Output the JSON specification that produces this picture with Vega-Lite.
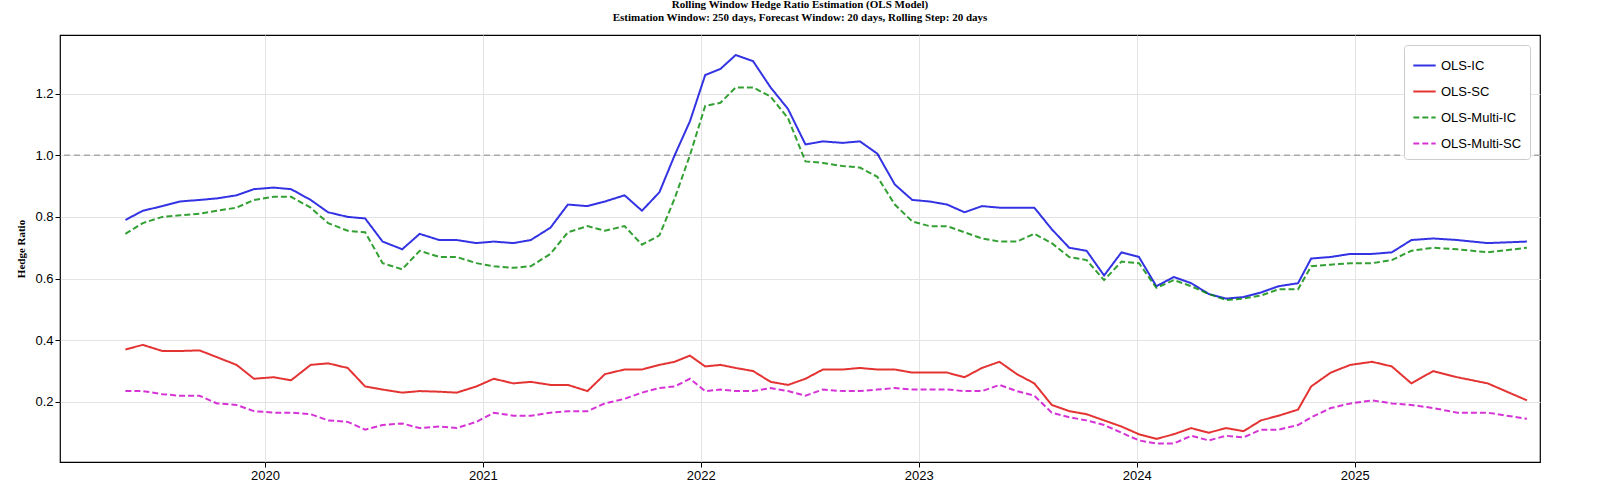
{
  "$schema": "https://vega.github.io/schema/vega-lite/v6.json",
  "width": 1480,
  "height": 427,
  "autosize": "none",
  "padding": {"left": 60, "top": 35, "right": 59, "bottom": 34},
  "background": "white",
  "title": {
    "text": ["Rolling Window Hedge Ratio Estimation (OLS Model)", "Estimation Window: 250 days, Forecast Window: 20 days, Rolling Step: 20 days"],
    "font": "Liberation Serif", "fontSize": 11, "fontWeight": "bold", "color": "#000", "offset": 12, "lineHeight": 13
  },
  "config": {
    "view": {"stroke": "#000", "strokeWidth": 1.2},
    "axis": {"grid": true, "gridColor": "#e3e3e3", "domain": false, "tickColor": "#000", "labelColor": "#000", "labelFont": "Liberation Sans", "labelFontSize": 13},
    "legend": {"orient": "top-right", "offset": 10, "fillColor": "white", "strokeColor": "#cccccc", "cornerRadius": 3, "padding": 8, "labelFont": "Liberation Sans", "labelFontSize": 13, "labelColor": "#000", "symbolType": "stroke", "symbolSize": 500, "symbolStrokeWidth": 2, "rowPadding": 6}
  },
  "datasets": {
    "ratios": [
      {"t":2019.36,"IC":0.79,"SC":0.37,"MIC":0.745,"MSC":0.235},
      {"t":2019.44,"IC":0.82,"SC":0.385,"MIC":0.78,"MSC":0.235},
      {"t":2019.53,"IC":0.835,"SC":0.365,"MIC":0.80,"MSC":0.225},
      {"t":2019.61,"IC":0.85,"SC":0.365,"MIC":0.805,"MSC":0.22},
      {"t":2019.70,"IC":0.855,"SC":0.367,"MIC":0.81,"MSC":0.22},
      {"t":2019.78,"IC":0.86,"SC":0.345,"MIC":0.82,"MSC":0.195},
      {"t":2019.87,"IC":0.87,"SC":0.32,"MIC":0.83,"MSC":0.19},
      {"t":2019.95,"IC":0.89,"SC":0.275,"MIC":0.855,"MSC":0.17},
      {"t":2020.04,"IC":0.895,"SC":0.28,"MIC":0.865,"MSC":0.165},
      {"t":2020.12,"IC":0.89,"SC":0.27,"MIC":0.865,"MSC":0.165},
      {"t":2020.21,"IC":0.855,"SC":0.32,"MIC":0.83,"MSC":0.16},
      {"t":2020.29,"IC":0.815,"SC":0.325,"MIC":0.78,"MSC":0.14},
      {"t":2020.38,"IC":0.80,"SC":0.31,"MIC":0.755,"MSC":0.135},
      {"t":2020.46,"IC":0.795,"SC":0.25,"MIC":0.75,"MSC":0.11},
      {"t":2020.54,"IC":0.72,"SC":0.24,"MIC":0.65,"MSC":0.125},
      {"t":2020.63,"IC":0.695,"SC":0.23,"MIC":0.63,"MSC":0.13},
      {"t":2020.71,"IC":0.745,"SC":0.235,"MIC":0.69,"MSC":0.115},
      {"t":2020.80,"IC":0.725,"SC":0.233,"MIC":0.67,"MSC":0.12},
      {"t":2020.88,"IC":0.725,"SC":0.23,"MIC":0.67,"MSC":0.115},
      {"t":2020.97,"IC":0.715,"SC":0.25,"MIC":0.65,"MSC":0.135},
      {"t":2021.05,"IC":0.72,"SC":0.275,"MIC":0.64,"MSC":0.165},
      {"t":2021.14,"IC":0.715,"SC":0.26,"MIC":0.635,"MSC":0.155},
      {"t":2021.22,"IC":0.725,"SC":0.265,"MIC":0.64,"MSC":0.155},
      {"t":2021.31,"IC":0.765,"SC":0.255,"MIC":0.68,"MSC":0.165},
      {"t":2021.39,"IC":0.84,"SC":0.255,"MIC":0.75,"MSC":0.17},
      {"t":2021.48,"IC":0.835,"SC":0.235,"MIC":0.77,"MSC":0.17},
      {"t":2021.56,"IC":0.85,"SC":0.29,"MIC":0.755,"MSC":0.195},
      {"t":2021.65,"IC":0.87,"SC":0.305,"MIC":0.77,"MSC":0.21},
      {"t":2021.73,"IC":0.82,"SC":0.305,"MIC":0.71,"MSC":0.23},
      {"t":2021.81,"IC":0.88,"SC":0.32,"MIC":0.74,"MSC":0.245},
      {"t":2021.88,"IC":1.0,"SC":0.33,"MIC":0.86,"MSC":0.25},
      {"t":2021.95,"IC":1.11,"SC":0.35,"MIC":1.0,"MSC":0.275},
      {"t":2022.02,"IC":1.26,"SC":0.315,"MIC":1.16,"MSC":0.235},
      {"t":2022.09,"IC":1.28,"SC":0.32,"MIC":1.17,"MSC":0.24},
      {"t":2022.16,"IC":1.325,"SC":0.31,"MIC":1.22,"MSC":0.235},
      {"t":2022.24,"IC":1.305,"SC":0.30,"MIC":1.22,"MSC":0.235},
      {"t":2022.32,"IC":1.22,"SC":0.265,"MIC":1.19,"MSC":0.245},
      {"t":2022.40,"IC":1.15,"SC":0.255,"MIC":1.12,"MSC":0.235},
      {"t":2022.48,"IC":1.035,"SC":0.275,"MIC":0.98,"MSC":0.22},
      {"t":2022.56,"IC":1.045,"SC":0.305,"MIC":0.975,"MSC":0.24},
      {"t":2022.65,"IC":1.04,"SC":0.305,"MIC":0.965,"MSC":0.235},
      {"t":2022.73,"IC":1.045,"SC":0.31,"MIC":0.96,"MSC":0.235},
      {"t":2022.81,"IC":1.005,"SC":0.305,"MIC":0.93,"MSC":0.24},
      {"t":2022.89,"IC":0.905,"SC":0.305,"MIC":0.84,"MSC":0.245},
      {"t":2022.97,"IC":0.855,"SC":0.295,"MIC":0.785,"MSC":0.24},
      {"t":2023.05,"IC":0.85,"SC":0.295,"MIC":0.77,"MSC":0.24},
      {"t":2023.13,"IC":0.84,"SC":0.295,"MIC":0.77,"MSC":0.24},
      {"t":2023.21,"IC":0.815,"SC":0.28,"MIC":0.75,"MSC":0.235},
      {"t":2023.29,"IC":0.835,"SC":0.31,"MIC":0.73,"MSC":0.235},
      {"t":2023.37,"IC":0.83,"SC":0.33,"MIC":0.72,"MSC":0.255},
      {"t":2023.45,"IC":0.83,"SC":0.29,"MIC":0.72,"MSC":0.235},
      {"t":2023.53,"IC":0.83,"SC":0.26,"MIC":0.745,"MSC":0.22},
      {"t":2023.61,"IC":0.76,"SC":0.19,"MIC":0.715,"MSC":0.165},
      {"t":2023.69,"IC":0.70,"SC":0.17,"MIC":0.67,"MSC":0.15},
      {"t":2023.77,"IC":0.69,"SC":0.16,"MIC":0.66,"MSC":0.14},
      {"t":2023.85,"IC":0.61,"SC":0.14,"MIC":0.595,"MSC":0.125},
      {"t":2023.93,"IC":0.685,"SC":0.12,"MIC":0.655,"MSC":0.10},
      {"t":2024.01,"IC":0.67,"SC":0.095,"MIC":0.65,"MSC":0.075},
      {"t":2024.09,"IC":0.575,"SC":0.08,"MIC":0.57,"MSC":0.065},
      {"t":2024.17,"IC":0.605,"SC":0.095,"MIC":0.595,"MSC":0.065},
      {"t":2024.25,"IC":0.585,"SC":0.115,"MIC":0.575,"MSC":0.09},
      {"t":2024.33,"IC":0.55,"SC":0.10,"MIC":0.55,"MSC":0.075},
      {"t":2024.41,"IC":0.535,"SC":0.115,"MIC":0.53,"MSC":0.09},
      {"t":2024.49,"IC":0.54,"SC":0.105,"MIC":0.535,"MSC":0.085},
      {"t":2024.57,"IC":0.555,"SC":0.14,"MIC":0.545,"MSC":0.11},
      {"t":2024.65,"IC":0.575,"SC":0.155,"MIC":0.565,"MSC":0.11},
      {"t":2024.74,"IC":0.585,"SC":0.175,"MIC":0.565,"MSC":0.125},
      {"t":2024.80,"IC":0.665,"SC":0.25,"MIC":0.64,"MSC":0.15},
      {"t":2024.89,"IC":0.67,"SC":0.295,"MIC":0.645,"MSC":0.18},
      {"t":2024.98,"IC":0.68,"SC":0.32,"MIC":0.65,"MSC":0.195},
      {"t":2025.08,"IC":0.68,"SC":0.33,"MIC":0.65,"MSC":0.205},
      {"t":2025.17,"IC":0.685,"SC":0.315,"MIC":0.66,"MSC":0.195},
      {"t":2025.26,"IC":0.725,"SC":0.26,"MIC":0.69,"MSC":0.19},
      {"t":2025.36,"IC":0.73,"SC":0.30,"MIC":0.70,"MSC":0.18},
      {"t":2025.47,"IC":0.725,"SC":0.28,"MIC":0.695,"MSC":0.165},
      {"t":2025.61,"IC":0.715,"SC":0.26,"MIC":0.685,"MSC":0.165},
      {"t":2025.79,"IC":0.72,"SC":0.205,"MIC":0.70,"MSC":0.145}
    ]
  },
  "layer": [
    {
      "data": {"values": [{"y": 1.0}]},
      "mark": {"type": "rule", "color": "#aaaaaa", "strokeDash": [6, 4], "strokeWidth": 1.3},
      "encoding": {"y": {"field": "y", "type": "quantitative", "scale": {"domain": [0.005, 1.39], "nice": false}}}
    },
    {
      "data": {"name": "ratios"},
      "transform": [
        {"fold": ["IC", "SC", "MIC", "MSC"], "as": ["key", "value"]},
        {"lookup": "key", "from": {"data": {"values": [
          {"key": "IC", "series": "OLS-IC"},
          {"key": "SC", "series": "OLS-SC"},
          {"key": "MIC", "series": "OLS-Multi-IC"},
          {"key": "MSC", "series": "OLS-Multi-SC"}
        ]}, "key": "key", "fields": ["series"]}}
      ],
      "mark": {"type": "line", "strokeWidth": 2, "opacity": 0.8},
      "encoding": {
        "x": {"field": "t", "type": "quantitative", "title": null,
          "scale": {"domain": [2019.06, 2025.85], "nice": false, "zero": false},
          "axis": {"values": [2020, 2021, 2022, 2023, 2024, 2025], "format": "d"}},
        "y": {"field": "value", "type": "quantitative", "title": "Hedge Ratio",
          "scale": {"domain": [0.005, 1.39], "nice": false},
          "axis": {"values": [0.2, 0.4, 0.6, 0.8, 1.0, 1.2], "format": ".1f", "titleFont": "Liberation Serif", "titleFontSize": 11, "titleFontWeight": "bold", "titlePadding": 8}},
        "color": {"field": "series", "type": "nominal", "title": null,
          "scale": {"domain": ["OLS-IC", "OLS-SC", "OLS-Multi-IC", "OLS-Multi-SC"], "range": ["#0000dd", "#dd0000", "#008800", "#cc00cc"]}},
        "strokeDash": {"field": "series", "type": "nominal", "title": null,
          "scale": {"domain": ["OLS-IC", "OLS-SC", "OLS-Multi-IC", "OLS-Multi-SC"], "range": [[1, 0], [1, 0], [6, 3], [6, 3]]}},
        "order": {"field": "t", "type": "quantitative"}
      }
    }
  ]
}
